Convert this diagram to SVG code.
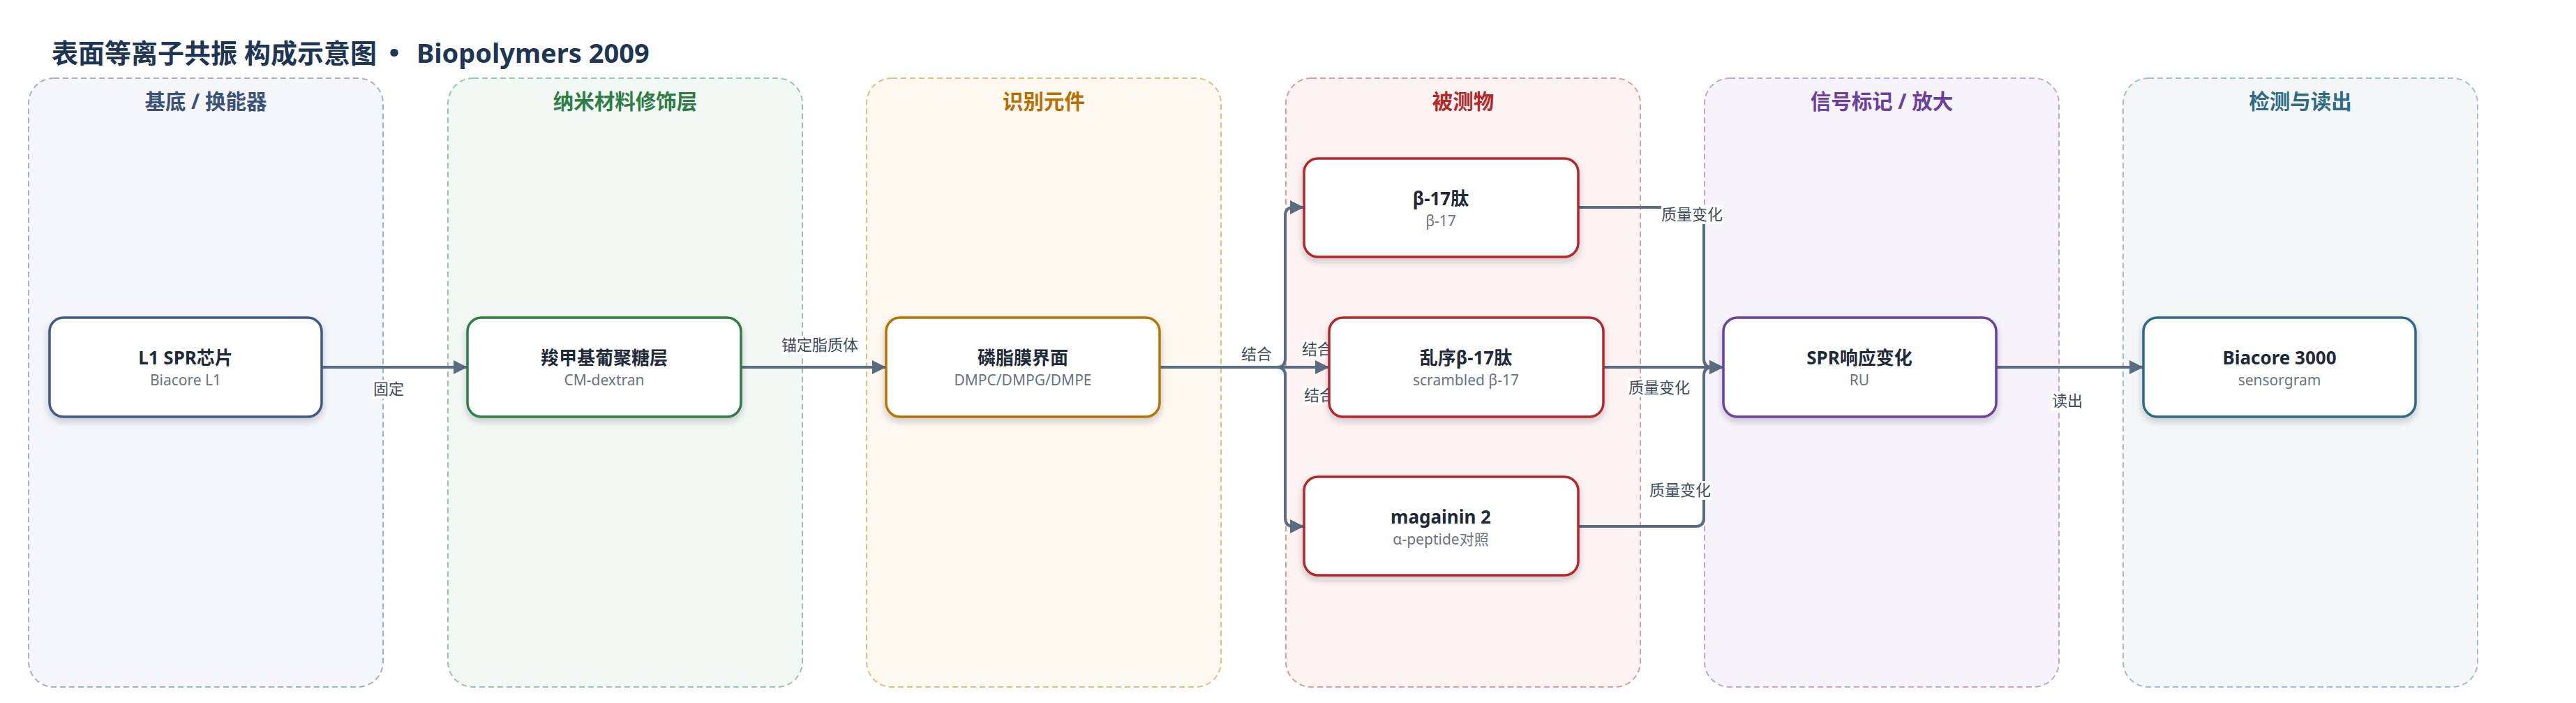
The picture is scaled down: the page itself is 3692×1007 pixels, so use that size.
<svg xmlns="http://www.w3.org/2000/svg" width="3692" height="1007" viewBox="0 0 3692 1007">
<style>
.ff{font-family:"Noto Sans","Noto Sans CJK SC",sans-serif}
.title{font-size:38px;font-weight:700;fill:#1e3553}
.lane{stroke-width:2;stroke-dasharray:8 5}
.lt{font-size:29.5px;font-weight:700;text-anchor:middle}
.node{fill:#fff;stroke-width:3.5;filter:url(#sh)}
.nt{font-size:26px;font-weight:700;fill:#1f2937;text-anchor:middle}
.ns{font-size:21px;fill:#6b7280;text-anchor:middle}
.edge{fill:none;stroke:#5b6b80;stroke-width:4}
.el{font-size:22px;fill:#3f4a5a;text-anchor:middle}
.lb{fill:#fff}
</style>
<defs>
<filter id="sh" x="-10%" y="-10%" width="120%" height="130%">
<feDropShadow dx="0" dy="5" stdDeviation="5" flood-color="#1f2937" flood-opacity="0.22"/>
</filter>
<marker id="ar" markerUnits="userSpaceOnUse" markerWidth="20" markerHeight="20" viewBox="0 0 20 20" refX="20" refY="10" orient="auto">
<path d="M0,0 L20,10 L0,20 z" fill="#5b6b80"/>
</marker>
</defs>
<rect width="3692" height="1007" fill="#fff"/>
<text class="ff title" x="74" y="90">表面等离子共振 构成示意图 <tspan x="565" y="99" font-size="66" text-anchor="middle">·</tspan><tspan x="587" y="90"> Biopolymers 2009</tspan></text>

<g id="lanes">
<g id="lane1"><rect class="lane" x="41" y="112" width="508" height="872" rx="36" fill="#f5f6fa" stroke="#a3b1c6"/><text class="ff lt" x="295" y="156" fill="#3b5278">基底 / 换能器</text></g>
<g id="lane2"><rect class="lane" x="642" y="112" width="508" height="872" rx="36" fill="#f2f8f4" stroke="#9cc5a8"/><text class="ff lt" x="896" y="156" fill="#2e7d46">纳米材料修饰层</text></g>
<g id="lane3"><rect class="lane" x="1242" y="112" width="508" height="872" rx="36" fill="#fdf8f0" stroke="#e3bd84"/><text class="ff lt" x="1496" y="156" fill="#b86e00">识别元件</text></g>
<g id="lane4"><rect class="lane" x="1843" y="112" width="508" height="872" rx="36" fill="#fdf3f2" stroke="#e09a9a"/><text class="ff lt" x="2097" y="156" fill="#b42828">被测物</text></g>
<g id="lane5"><rect class="lane" x="2443" y="112" width="508" height="872" rx="36" fill="#f6f3fb" stroke="#bfa5dd"/><text class="ff lt" x="2697" y="156" fill="#6a3fa0">信号标记 / 放大</text></g>
<g id="lane6"><rect class="lane" x="3043" y="112" width="508" height="872" rx="36" fill="#f3f7f8" stroke="#9fbfca"/><text class="ff lt" x="3297" y="156" fill="#2f6b85">检测与读出</text></g>
</g>

<g id="connectors">
<path class="edge" d="M461,526 H670" marker-end="url(#ar)"/>
<path class="edge" d="M1062,526 H1270" marker-end="url(#ar)"/>
<path class="edge" d="M1662,526 H1830 Q1842,526 1842,514 V309 Q1842,297 1854,297 H1869" marker-end="url(#ar)"/>
<path class="edge" d="M1662,526 H1905" marker-end="url(#ar)"/>
<path class="edge" d="M1662,526 H1830 Q1842,526 1842,538 V742 Q1842,754 1854,754 H1869" marker-end="url(#ar)"/>
<path class="edge" d="M2262,297 H2430 Q2442,297 2442,309 V514 Q2442,526 2454,526 H2470" marker-end="url(#ar)"/>
<path class="edge" d="M2298,526 H2470" marker-end="url(#ar)"/>
<path class="edge" d="M2262,754 H2430 Q2442,754 2442,742 V538 Q2442,526 2454,526 H2470" marker-end="url(#ar)"/>
<path class="edge" d="M2861,526 H3072" marker-end="url(#ar)"/>
<g id="edge-labels">
<rect class="lb" x="534" y="544" width="46" height="27"/><text class="ff el" x="557" y="565">固定</text>
<rect class="lb" x="1120" y="481" width="110" height="27"/><text class="ff el" x="1175" y="502">锚定脂质体</text>
<rect class="lb" x="1778" y="494" width="46" height="27"/><text class="ff el" x="1801" y="515">结合</text>
<rect class="lb" x="1865" y="487" width="46" height="27"/><text class="ff el" x="1888" y="508">结合</text>
<rect class="lb" x="1868" y="553" width="46" height="27"/><text class="ff el" x="1891" y="574">结合</text>
<rect class="lb" x="2381" y="294" width="89" height="27"/><text class="ff el" x="2425" y="315">质量变化</text>
<rect class="lb" x="2334" y="542" width="89" height="27"/><text class="ff el" x="2378" y="563">质量变化</text>
<rect class="lb" x="2364" y="689" width="89" height="27"/><text class="ff el" x="2408" y="710">质量变化</text>
<rect class="lb" x="2940" y="561" width="46" height="27"/><text class="ff el" x="2963" y="582">读出</text>
</g>
</g>

<g id="n1"><rect class="node" x="71" y="455" width="390" height="142" rx="20" stroke="#3f5a85"/><text class="ff nt" x="266" y="522">L1 SPR芯片</text><text class="ff ns" x="266" y="552">Biacore L1</text></g>
<g id="n2"><rect class="node" x="670" y="455" width="392" height="142" rx="20" stroke="#2e7d46"/><text class="ff nt" x="866" y="522">羧甲基葡聚糖层</text><text class="ff ns" x="866" y="552">CM-dextran</text></g>
<g id="n3"><rect class="node" x="1270" y="455" width="392" height="142" rx="20" stroke="#b87300"/><text class="ff nt" x="1466" y="522">磷脂膜界面</text><text class="ff ns" x="1466" y="552">DMPC/DMPG/DMPE</text></g>
<g id="n4"><rect class="node" x="1869" y="227" width="393" height="141" rx="20" stroke="#b5282a"/><text class="ff nt" x="2065" y="294">β-17肽</text><text class="ff ns" x="2065" y="324">β-17</text></g>
<g id="n5"><rect class="node" x="1905" y="455" width="393" height="142" rx="20" stroke="#b5282a"/><text class="ff nt" x="2101" y="522">乱序β-17肽</text><text class="ff ns" x="2101" y="552">scrambled β-17</text></g>
<g id="n6"><rect class="node" x="1869" y="683" width="393" height="141" rx="20" stroke="#b5282a"/><text class="ff nt" x="2065" y="750">magainin 2</text><text class="ff ns" x="2065" y="780">α-peptide对照</text></g>
<g id="n7"><rect class="node" x="2470" y="455" width="391" height="142" rx="20" stroke="#6a3fa0"/><text class="ff nt" x="2665" y="522">SPR响应变化</text><text class="ff ns" x="2665" y="552">RU</text></g>
<g id="n8"><rect class="node" x="3072" y="455" width="390" height="142" rx="20" stroke="#2f6b85"/><text class="ff nt" x="3267" y="522">Biacore 3000</text><text class="ff ns" x="3267" y="552">sensorgram</text></g>
</svg>
